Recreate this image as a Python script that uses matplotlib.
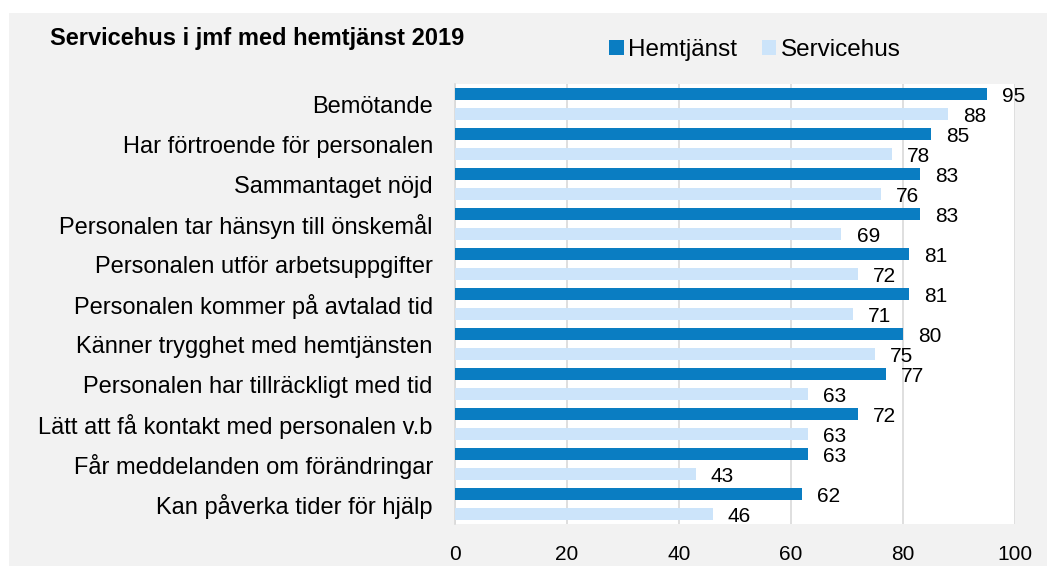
import numpy as np
import matplotlib
matplotlib.use('Agg')
import matplotlib.pyplot as plt
from matplotlib.patches import Rectangle

plt.rcParams['font.family'] = ['Liberation Sans', 'DejaVu Sans']

# data
categories = ['Bemötande', 'Har förtroende för personalen', 'Sammantaget nöjd',
              'Personalen tar hänsyn till önskemål', 'Personalen utför arbetsuppgifter',
              'Personalen kommer på avtalad tid', 'Känner trygghet med hemtjänsten',
              'Personalen har tillräckligt med tid', 'Lätt att få kontakt med personalen v.b',
              'Får meddelanden om förändringar', 'Kan påverka tider för hjälp']
hemtjanst = [95, 85, 83, 83, 81, 81, 80, 77, 72, 63, 62]
servicehus = [88, 78, 76, 69, 72, 71, 75, 63, 63, 43, 46]
series_names = ['Hemtjänst', 'Servicehus']
xticks = [0, 20, 40, 60, 80, 100]

dark = '#0A7DC2'
light = '#CCE4FA'
bg = '#F2F2F2'

W, H = 1049, 566
fig = plt.figure(figsize=(W / 100, H / 100), dpi=100)
fig.patch.set_facecolor('white')
# gray panel
fig.patches.append(Rectangle((9 / W, 0), (W - 11) / W, (H - 13) / H, transform=fig.transFigure,
                             facecolor=bg, edgecolor='none', zorder=-10))

ax = fig.add_axes([455 / W, (H - 524) / H, (1015 - 455) / W, (524 - 84) / H])
ax.set_facecolor('white')

y = np.arange(len(categories))
h = 0.3
ax.barh(y - 0.25, hemtjanst, height=h, color=dark, label=series_names[0], zorder=3)
ax.barh(y + 0.25, servicehus, height=h, color=light, label=series_names[1], zorder=3)

for i in range(len(categories)):
    ax.text(hemtjanst[i] + 2.7, y[i] - 0.19, str(hemtjanst[i]), va='center', ha='left', fontsize=15)
    ax.text(servicehus[i] + 2.7, y[i] + 0.31, str(servicehus[i]), va='center', ha='left', fontsize=15)

ax.set_ylim(len(categories) - 0.5, -0.5)
ax.set_xlim(0, 100)
ax.set_xticks(xticks)
ax.set_xticklabels([str(t) for t in xticks], fontsize=15)
ax.set_yticks(y)
ax.set_yticklabels(categories, fontsize=17)
ax.tick_params(axis='both', length=0)
ax.tick_params(axis='x', pad=15)
ax.tick_params(axis='y', pad=16)
ax.grid(axis='x', color='#D9D9D9', linewidth=1.2, zorder=0)
for s in ['top', 'right', 'bottom']:
    ax.spines[s].set_visible(False)
ax.spines['left'].set_color('#D9D9D9')
ax.spines['left'].set_linewidth(1.2)

fig.text(50 / W, 1 - 38 / H, 'Servicehus i jmf med hemtjänst 2019', fontsize=17,
         fontweight='bold', va='center', ha='left')
fig.legend(loc='center', bbox_to_anchor=(755 / W, 1 - 50 / H), ncol=2, frameon=False,
           fontsize=17.5, handlelength=0.6, handleheight=0.6, handletextpad=0.2,
           columnspacing=1.0)

fig.savefig('out.png', dpi=100, facecolor=fig.get_facecolor())
